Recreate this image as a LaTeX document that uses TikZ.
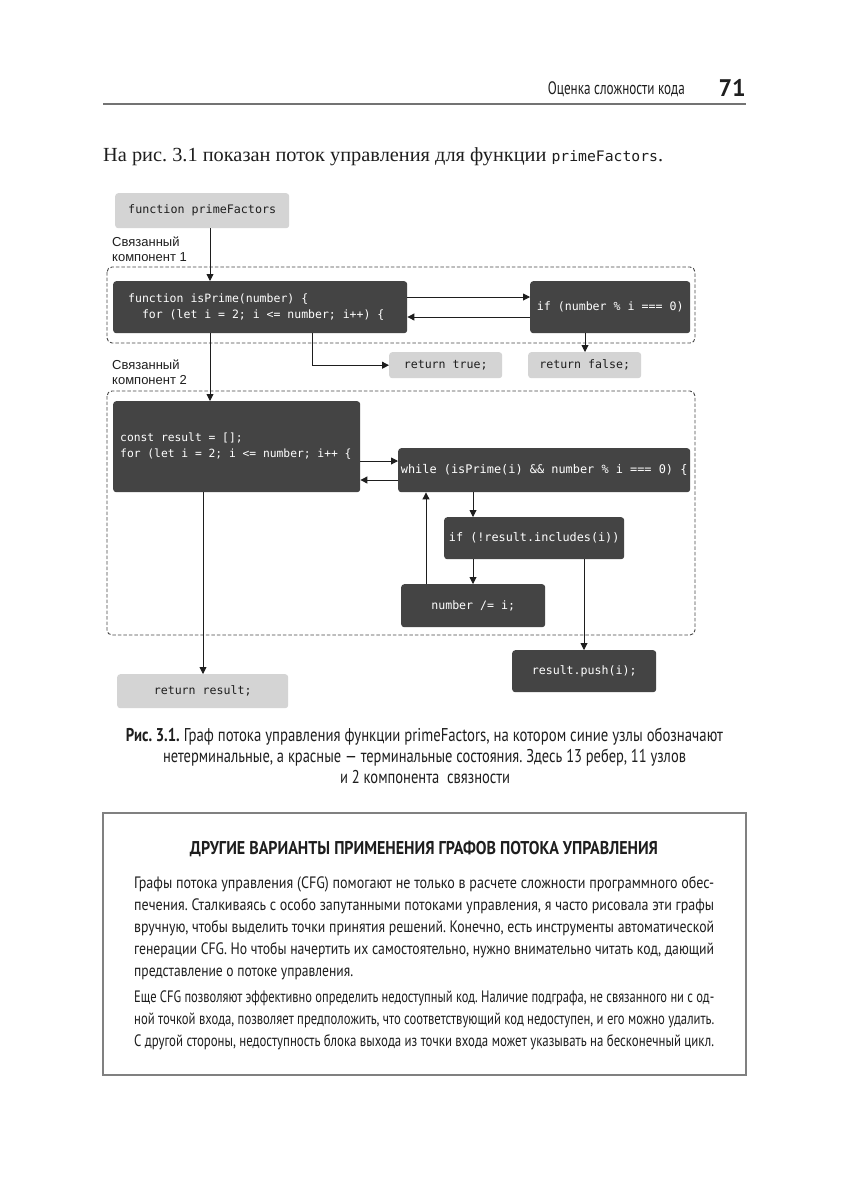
\documentclass[tikz,border=0pt]{standalone}
\usepackage{fontspec}
\usepackage{graphicx}
\setmainfont{Liberation Serif}
\newfontfamily\condf{PT Sans}
\newfontfamily\codef{DejaVu Sans Mono}
\newfontfamily\labf{Liberation Sans}
\usetikzlibrary{arrows.meta,calc}
\definecolor{darkbg}{HTML}{444444}
\definecolor{lightbg}{HTML}{D4D4D4}
\definecolor{inkc}{HTML}{1E1E1E}
\newcommand{\fitto}[2]{\resizebox{#1}{\height}{#2}}
\newcommand{\codelines}[2]{\makebox[#1][l]{\begin{tabular}{@{}l@{}}#2\end{tabular}}}
\frenchspacing
\begin{document}
\begin{tikzpicture}[x=1pt,y=-1pt,
  darkn/.style={fill=darkbg, rounded corners=3pt, text=white, inner sep=0pt, anchor=north west},
  lightn/.style={fill=lightbg, rounded corners=3pt, text=inkc, inner sep=0pt, anchor=north west},
  code/.style={font=\codef\fontsize{#1}{16}\selectfont},
  arr/.style={draw=inkc, line width=0.9pt, -{Triangle[length=7pt,width=7pt]}},
  dashbox/.style={draw=black!72, line width=0.9pt, dash pattern=on 3.5pt off 2pt, rounded corners=5pt},
  labn/.style={font=\labf\fontsize{13}{15}\selectfont, text=inkc, align=left, inner sep=0pt, anchor=north west},
  captxt/.style={font=\condf\fontsize{18.5}{20}\selectfont, text=inkc, inner sep=0pt, anchor=base},
  boxtxt/.style={font=\condf\fontsize{16.5}{20}\selectfont, text=inkc, inner sep=0pt, anchor=base west},
  hdrtxt/.style={font=\condf\fontsize{18}{20}\selectfont, text=inkc, inner sep=0pt}
]
\useasboundingbox (0,0) rectangle (849,1200);
\fill[white] (0,0) rectangle (849,1200);

% header
\node[hdrtxt, anchor=base east] (hdr) at (685,94) {\fitto{137pt}{Оценка сложности кода}};
\node[hdrtxt, font=\condf\bfseries\fontsize{24}{26}\selectfont, anchor=base east] (pgno) at (746,96) {71};
\draw[black!55, line width=1.2pt] (103,104) -- (746,104);

% body line
\node[font=\fontsize{20}{22}\selectfont, text=inkc, inner sep=0pt, anchor=base west] (intro) at (103,161)
  {\fitto{560pt}{На рис. 3.1 показан поток управления для функции {\codef\fontsize{14.5}{16}\selectfont primeFactors}.}};

% dashed components
\draw[dashbox] (107,267) rectangle (695,343);
\draw[dashbox] (107,391) rectangle (695,635);

% labels
\node[labn] (lab1) at (112,237) {Связанный\\компонент 1};
\node[labn] (lab2) at (112,360) {Связанный\\компонент 2};

% nodes
\node[lightn, code=11.7, minimum width=174pt, minimum height=35pt] (pf) at (115,193) {function primeFactors};
\node[darkn, code=11.5, minimum width=294pt, minimum height=52pt] (isprime) at (113,281)
  {\codelines{264pt}{function isPrime(number) \{\\\ \ for (let i = 2; i <= number; i++) \{}};
\node[darkn, code=11.6, minimum width=160pt, minimum height=52pt] (ifnum) at (530,281) {if (number \% i === 0)};
\node[lightn, code=11.6, minimum width=113pt, minimum height=26pt] (rettrue) at (389,352) {return true;};
\node[lightn, code=11.6, minimum width=113pt, minimum height=26pt] (retfalse) at (528,352) {return false;};
\node[darkn, code=11.3, minimum width=247pt, minimum height=91pt] (constres) at (113,401)
  {\codelines{233pt}{const result = [];\\for (let i = 2; i <= number; i++ \{}};
\node[darkn, code=11.9, minimum width=292pt, minimum height=44pt] (while) at (398,448) {while (isPrime(i) \&\& number \% i === 0) \{};
\node[darkn, code=11.8, minimum width=180pt, minimum height=42pt] (ifinc) at (444,517) {if (!result.includes(i))};
\node[darkn, code=11.6, minimum width=144pt, minimum height=43pt] (numdiv) at (401,584) {number /= i;};
\node[darkn, code=11.6, minimum width=144pt, minimum height=42pt] (push) at (512,650) {result.push(i);};
\node[lightn, code=11.6, minimum width=171pt, minimum height=34pt] (retres) at (117,674) {return result;};

% helper coordinates
\coordinate (c210) at (210,0);
\coordinate (c312) at (312,0);
\coordinate (c585) at (585,0);
\coordinate (c473) at (473,0);
\coordinate (c426) at (426,0);
\coordinate (c584) at (584,0);
\coordinate (c203) at (203,0);
\coordinate (r297) at (0,297);
\coordinate (r317) at (0,317);
\coordinate (r461) at (0,461);
\coordinate (r480) at (0,480);

% connectors
\draw[arr] (pf.south -| c210) -- (isprime.north -| c210);
\draw[arr] (isprime.east |- r297) -- (ifnum.west |- r297);
\draw[arr] (ifnum.west |- r317) -- (isprime.east |- r317);
\draw[arr] (ifnum.south -| c585) -- (retfalse.north -| c585);
\draw[arr] (isprime.south -| c312) |- (rettrue.west);
\draw[arr] (isprime.south -| c210) -- (constres.north -| c210);
\draw[arr] (constres.east |- r461) -- (while.west |- r461);
\draw[arr] (while.west |- r480) -- (constres.east |- r480);
\draw[arr] (while.south -| c473) -- (ifinc.north -| c473);
\draw[arr] (ifinc.south -| c473) -- (numdiv.north -| c473);
\draw[arr] (numdiv.north -| c426) -- (while.south -| c426);
\draw[arr] (ifinc.south -| c584) -- (push.north -| c584);
\draw[arr] (constres.south -| c203) -- (retres.north -| c203);

% caption
\node[captxt] (cap1) at (424.5,741) {\fitto{597pt}{\textbf{Рис. 3.1.} Граф потока управления функции primeFactors, на котором синие узлы обозначают}};
\node[captxt] (cap2) at (424.5,762) {\fitto{523pt}{нетерминальные, а красные — терминальные состояния. Здесь 13 ребер, 11 узлов}};
\node[captxt] (cap3) at (425,783) {\fitto{170pt}{и 2 компонента \ связности}};

% sidebar box
\draw[black!50, line width=1.2pt] (103,813) rectangle (746,1075);
\node[captxt, font=\condf\bfseries\fontsize{18.5}{20}\selectfont] (btitle) at (424,854) {\fitto{468pt}{ДРУГИЕ ВАРИАНТЫ ПРИМЕНЕНИЯ ГРАФОВ ПОТОКА УПРАВЛЕНИЯ}};
\node[boxtxt] (p1) at (134,888) {\fitto{580pt}{Графы потока управления (CFG) помогают не только в расчете сложности программного обес-}};
\node[boxtxt] (p2) at (134,910) {\fitto{580pt}{печения. Сталкиваясь с особо запутанными потоками управления, я часто рисовала эти графы}};
\node[boxtxt] (p3) at (134,932) {\fitto{580pt}{вручную, чтобы выделить точки принятия решений. Конечно, есть инструменты автоматической}};
\node[boxtxt] (p4) at (134,954) {\fitto{580pt}{генерации CFG. Но чтобы начертить их самостоятельно, нужно внимательно читать код, дающий}};
\node[boxtxt] (p5) at (134,976) {\fitto{219pt}{представление о потоке управления.}};
\node[boxtxt] (q1) at (134,1002) {\fitto{580pt}{Еще CFG позволяют эффективно определить недоступный код. Наличие подграфа, не связанного ни с од-}};
\node[boxtxt] (q2) at (134,1024) {\fitto{580pt}{ной точкой входа, позволяет предположить, что соответствующий код недоступен, и его можно удалить.}};
\node[boxtxt] (q3) at (134,1046) {\fitto{580pt}{С другой стороны, недоступность блока выхода из точки входа может указывать на бесконечный цикл.}};
\end{tikzpicture}
\end{document}
